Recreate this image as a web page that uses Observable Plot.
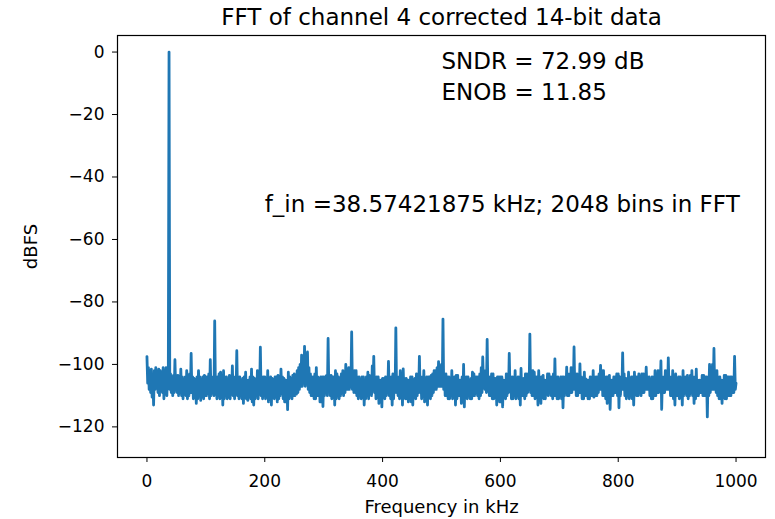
<!DOCTYPE html>
<html><head><meta charset="utf-8">
<script src="https://cdn.jsdelivr.net/npm/d3@7"></script>
<script src="https://cdn.jsdelivr.net/npm/@observablehq/plot@0.6"></script>
<style>body{margin:0;background:#fff}</style>
</head><body><div id="chart"></div>
<script>
const title = "FFT of channel 4 corrected 14-bit data";
const xLabel = "Frequency in kHz";
const yLabel = "dBFS";
const xTicks = [0, 200, 400, 600, 800, 1000];
const yTicks = [0, -20, -40, -60, -80, -100, -120];

// FFT magnitude (dBFS). Each row covers 50 kHz in 2.5 kHz steps:
// "upper" samples sit at the start of each step, "lower" samples half a step later.
const stepKHz = 2.5;
const rowSpanKHz = 50;
const upperRows = [
  [-97.5,-101,-102,-101.5,-104,-102,-101,-104,-101.5,-102,-103,-101,-102,-101,-103,0,-103,-104,-103.5,-98.5],
  [-104,-103.5,-104,-101.5,-104,-105,-104,-102,-104.5,-103,-96.5,-104,-104.5,-105,-104,-102,-104,-105,-104,-103.5],
  [-104,-104,-103,-98.5,-104,-104,-86.1,-104,-104,-103,-102.5,-104,-102,-104,-104,-105,-103.5,-104,-100.5,-104],
  [-104,-95.6,-104,-104,-105,-104.5,-104,-102.5,-105,-105,-104,-101.5,-104,-104.5,-105,-102,-104,-94.5,-104,-104],
  [-104,-105,-102,-105,-104,-104.5,-105,-104,-104,-103.5,-104,-101.5,-104,-104.5,-105,-105,-102.5,-104,-104.5,-103.5],
  [-103,-104,-102,-101,-100,-97,-99,-94.2,-98,-96,-101,-103,-104,-104,-103,-101,-104,-104.5,-104,-104],
  [-104,-104,-103.5,-91.7,-104,-103.5,-104,-104,-102,-103,-104,-104.5,-103,-102,-103,-100,-102,-101,-102,-89.6],
  [-102,-102,-102,-104,-104,-105,-104,-104,-105,-104,-102.5,-103.5,-104,-100.5,-97.4,-104,-104,-104,-105,-105],
  [-104.5,-104.5,-104,-104,-99,-104,-104,-103,-103,-88.3,-104,-104,-102,-103.5,-101.4,-104.5,-104.5,-105,-105,-104],
  [-104,-105,-104.5,-103,-103,-97.4,-104,-104,-102,-105,-104,-104,-104,-103.5,-103,-102,-102,-101,-99.1,-101],
  [-100,-85.5,-103,-103,-104,-104,-105,-102,-104,-104,-103.5,-103.5,-105,-105,-104,-100,-104,-104,-104,-105],
  [-104.5,-102.5,-103,-104,-104,-104,-103,-101,-97.6,-102,-104,-92,-104,-104,-103,-103,-104.5,-104.5,-104,-104],
  [-104,-104,-105,-105,-103,-103,-96.5,-104,-104,-104,-102,-105,-104,-104,-101.3,-104.5,-104.5,-103,-103,-103],
  [-90.3,-102,-102,-102.5,-104,-104,-102,-104,-104,-103.5,-105,-105,-103,-103,-104,-104,-103,-98.2,-104,-104],
  [-105,-104,-104,-104,-104,-100.9,-103,-103,-101,-101,-94.4,-103,-103,-104,-99.8,-104,-104.6,-102.5,-104.6,-105],
  [-105,-104,-104,-102,-104,-104,-104,-103,-100.3,-102,-102,-104,-104,-104,-103.5,-105,-105,-104,-104,-103],
  [-103,-104,-104,-96.3,-103,-104.5,-104.5,-102.5,-105,-104,-104,-102.5,-104,-104,-103,-104,-103,-103,-103,-100.9],
  [-104,-104,-105,-104,-104,-102,-104,-102,-102,-98.9,-104,-104,-102,-102,-97.9,-104,-104,-102,-105,-103],
  [-104.5,-104,-104,-105,-102,-104,-104,-103.5,-105,-103.5,-102,-104,-104,-101.5,-105,-105,-105,-103.5,-103.5,-104],
  [-104,-104,-100,-101,-100,-94.9,-102,-102,-104,-104,-105,-105,-103.5,-103.5,-104,-104,-104,-104,-104,-97.4]
];
const lowerRows = [
  [-106,-108,-109,-110.5,-113,-108,-107,-109,-110,-108,-109,-111,-107,-110,-104,-108,-109,-110,-109,-108],
  [-109,-110,-109,-110,-111,-109,-110,-111,-110,-109,-109,-111,-110,-112.5,-111,-110,-111.5,-110,-111,-110],
  [-110,-109,-111,-110,-108,-110,-109,-111,-110,-111,-110,-113,-111,-110,-111,-110.5,-111,-109,-110,-111],
  [-109,-110,-111,-110,-111,-112.5,-110,-111,-111.5,-110,-111,-112,-113,-111,-110,-111,-109,-110,-111,-110],
  [-111,-110.5,-112,-111,-113,-110,-111,-110,-112,-111,-110,-109,-111,-112,-112,-114.5,-111,-110,-111,-110],
  [-110,-109.5,-109,-108,-107,-107,-106,-107,-106,-108,-109,-110,-110,-111,-111,-110,-110,-112,-112,-113.5],
  [-110,-109,-110,-108,-110,-111,-110,-113,-111,-110,-111,-110,-109,-110,-109,-108,-108,-108,-107,-108],
  [-109,-109,-110,-111,-110,-111,-110,-113,-111,-110,-111,-109,-110,-108,-109,-111,-110,-112.5,-110,-113.6],
  [-110,-111,-110,-109,-110,-111,-113,-111,-109,-109,-110,-111,-110,-113,-110,-111,-111,-112,-110,-112],
  [-113,-110.5,-111,-110,-109,-109,-111,-110,-112,-111,-113,-110,-111,-110,-109,-108,-108,-107,-107,-107],
  [-107,-108,-110,-110,-111,-111,-110,-111,-110,-113,-111,-110,-110,-112.5,-112,-113.6,-110,-111,-110,-111],
  [-111,-110,-110,-109,-110,-111,-110,-109,-106,-108,-109,-108,-110,-110,-111,-111,-110,-113,-110,-112],
  [-112,-113.6,-110,-111,-110,-109,-108,-111,-111,-110,-111,-110,-111,-113,-110,-110,-111,-110,-109,-108],
  [-109,-110,-110,-111,-110,-113,-110,-112.5,-110,-111,-111,-109,-110,-109,-110,-111,-110,-110,-111,-111],
  [-110,-111,-113.9,-110,-109,-110,-110,-109,-109,-108,-108,-110,-110,-109,-109,-111,-111,-110,-110,-111],
  [-111,-110,-110,-110.5,-110,-110,-109,-108,-108,-110,-110,-111,-112.5,-110,-114.4,-110,-110,-109,-109,-110],
  [-113.9,-110,-108,-108,-110,-111,-110,-111,-110,-111,-113,-109,-110,-110,-109,-110,-109,-109,-108,-108],
  [-108,-110,-111,-111,-110,-110,-109,-109,-108,-114.4,-109,-109,-108,-108,-108,-110,-110,-111,-113,-110],
  [-110,-111,-110,-113,-110,-109,-110,-111,-110,-109,-110,-112.5,-111,-110,-110,-109,-109,-110,-110,-110],
  [-116.8,-110,-109,-108,-108,-108,-109,-110,-111,-111,-112.5,-110,-111,-111,-110,-110,-110,-109,-109,-108]
];
const lastKHz = 1000;
const lastDB = -106;

// annotations (text, kHz, dBFS of baseline)
const annText = ["SNDR = 72.99 dB", "ENOB = 11.85", "f_in =38.57421875 kHz; 2048 bins in FFT"];
const annKHz = [500, 500, 200];
const annDB = [-5.3, -15.2, -51.2];

const spectrum = upperRows.flatMap((row, k) => row.flatMap((hi, j) => [
  {f: k * rowSpanKHz + j * stepKHz, db: hi},
  {f: k * rowSpanKHz + (j + 0.5) * stepKHz, db: lowerRows[k][j]}
]));
spectrum.push({f: lastKHz, db: lastDB});

const minus = d => d < 0 ? "\u2212" + Math.abs(d) : String(d);

const chart = Plot.plot({
  width: 775, height: 519,
  marginLeft: 117, marginRight: 10, marginTop: 35, marginBottom: 62,
  style: {fontFamily: "'DejaVu Sans', sans-serif", fontSize: "17px", color: "#000", background: "#fff", overflow: "visible"},
  x: {domain: [-50, 1050]},
  y: {domain: [-129.8, 5.3]},
  marks: [
    Plot.lineY(spectrum, {x: "f", y: "db", stroke: "#1f77b4", strokeWidth: 2.8, clip: true}),
    Plot.frame({stroke: "#000", strokeWidth: 1.2}),
    Plot.axisX({ticks: xTicks, tickSize: 5, tickPadding: 12, label: null, fontSize: 17, tickFormat: d => String(d)}),
    Plot.axisY({ticks: yTicks, tickSize: 5, tickPadding: 8, label: null, fontSize: 17, tickFormat: minus}),
    Plot.text([title], {frameAnchor: "top", lineAnchor: "middle", dy: -18, fontSize: 23}),
    Plot.text([xLabel], {frameAnchor: "bottom", lineAnchor: "middle", dy: 50, fontSize: 18}),
    Plot.text([yLabel], {frameAnchor: "left", textAnchor: "middle", lineAnchor: "middle", dx: -86, rotate: -90, fontSize: 18}),
    Plot.text(annText, {x: (d, i) => annKHz[i], y: (d, i) => annDB[i], text: d => d, textAnchor: "start", lineAnchor: "bottom", fontSize: 23})
  ]
});
document.getElementById("chart").append(chart);
</script>
</body></html>
